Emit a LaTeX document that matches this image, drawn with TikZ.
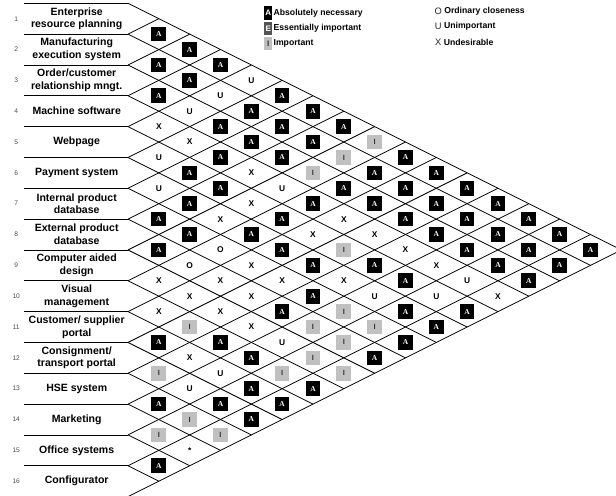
\documentclass[tikz,border=0pt]{standalone}
\usepackage{fontspec}
\setmainfont{Liberation Sans}
\newfontfamily\markfont{Liberation Serif}
\usepackage{tikz}
\usetikzlibrary{positioning}
\usepackage{xcolor}
\definecolor{relgray}{HTML}{C0C0C0}
\definecolor{reldark}{HTML}{555555}

\begin{document}
\begin{tikzpicture}[
    x=23.12pt, y=23.12pt,
    node distance=1.2pt and 0.6pt,
    chartline/.style={line width=0.6pt},
    rowtext/.style={align=center, inner sep=0pt, font=\fontsize{7.9}{9.5}\selectfont\bfseries},
    rownum/.style={inner sep=0pt, text=black!70, font=\fontsize{5}{6}\selectfont},
    abox/.style={fill=black, text=white, minimum size=11pt, inner sep=0pt, font=\markfont\fontsize{5.6}{6}\selectfont\bfseries},
    ibox/.style={fill=relgray, text=black!80, minimum size=11pt, inner sep=0pt, font=\fontsize{5.6}{6}\selectfont\bfseries},
    rel/.style={inner sep=0pt, font=\fontsize{6.3}{7}\selectfont\bfseries},
    keybox/.style={minimum width=6pt, minimum height=10pt, inner sep=0pt, font=\fontsize{6}{7}\selectfont\bfseries},
    keysym/.style={inner sep=0pt, text=black!85, font=\fontsize{7}{8}\selectfont},
    keytext/.style={inner sep=0pt, font=\fontsize{6.5}{7}\selectfont\bfseries}
]
\useasboundingbox (-4.152,0.107) rectangle (15.829,-15.949);

% row boundaries
\foreach \k in {0,...,16} {
  \coordinate (a\k) at (-3.37,-\k);
  \coordinate (b\k) at (0,-\k);
  \draw[chartline] (a\k) -- (b\k);
}
\coordinate (tip) at (16,-8);

% diagonals of the chart
\foreach \k in {0,...,15}
  \draw[chartline] (b\k) -- ++({16-\k},{-(16-\k)/2});
\foreach \k in {1,...,16}
  \draw[chartline] (b\k) -- ++(\k,{\k/2});

% activities
\foreach \r/\txt in {1/{Enterprise\\resource planning}, 2/{Manufacturing\\execution system},
    3/{Order/customer\\relationship mngt.}, 4/{Machine software}, 5/{Webpage},
    6/{Payment system}, 7/{Internal product\\database}, 8/{External product\\database},
    9/{Computer aided\\design}, 10/{Visual\\management}, 11/{Customer/ supplier\\portal},
    12/{Consignment/\\transport portal}, 13/{HSE system}, 14/{Marketing},
    15/{Office systems}, 16/{Configurator}} {
  \node[rowtext] (r\r) at (-1.664,{0.5-\r}) {\txt};
  \node[rownum] (n\r) at (-3.626,{0.5-\r}) {\r};
}

% absolutely necessary
\foreach \d/\s in {1/2,1/4,1/6,1/14,1/16,1/22,1/26,1/30,
    2/3,2/5,2/11,2/13,2/15,
    3/4,3/8,3/10,3/12,3/22,3/26,
    4/7,4/9,4/15,4/23,4/25,4/27,
    5/6,5/8,5/10,5/14,5/16,5/20,5/26,
    6/7,6/9,6/13,6/17,6/19,6/25,
    7/8,7/12,
    8/11,8/13,8/17,8/23,
    9/10,9/12,9/14,9/18,9/20,9/22,
    10/11,10/13,10/15,10/21,
    11/12,11/14,11/16,11/20,
    12/13,12/15,12/17,
    13/14,13/16,13/18,
    14/15,14/17,
    15/16}
  \node[abox] (c\d-\s) at (\d,{-\s/2}) {A};

% important
\foreach \d/\s in {1/24,1/28,2/21,2/27,3/28,5/24,6/11,6/21,6/23,
    7/10,7/16,7/20,7/22,7/24,8/9,8/21}
  \node[ibox] (c\d-\s) at (\d,{-\s/2}) {I};

% ordinary, unimportant, undesirable
\foreach \d/\s/\t in {1/8/X,1/10/U,1/12/U,1/18/X,1/20/X,
    2/7/U,2/9/X,2/17/O,2/19/X,2/23/X,2/25/U,2/29/*,
    3/6/U,3/14/X,3/16/O,3/18/X,3/20/X,3/24/U,
    4/5/U,4/11/X,4/13/X,4/17/X,4/19/X,4/21/X,
    5/12/U,5/18/X,5/22/U,
    6/15/X,
    7/14/X,7/18/X,
    8/15/X,8/19/U,
    9/16/X,
    10/17/X,10/19/U,
    11/18/U,
    12/19/X}
  \node[rel] (c\d-\s) at (\d,{-\s/2}) {\t};

% legend
\node[keybox, fill=black, text=white] (keyA) at (4.55,-0.31) {A};
\node[keybox, fill=reldark, text=white, below=of keyA] (keyE) {E};
\node[keybox, fill=relgray, text=black!80, below=of keyE] (keyI) {I};
\node[keytext, right=of keyA] (txtA) {Absolutely necessary};
\node[keytext, right=of keyE] (txtE) {Essentially important};
\node[keytext, right=of keyI] (txtI) {Important};

\node[keysym] (keyO) at (10.06,-0.27) {O};
\node[keysym] (keyU) at (10.06,-0.76) {U};
\node[keysym] (keyX) at (10.06,-1.265) {X};
\node[keytext, right=1.5pt of keyO] (txtO) {Ordinary closeness};
\node[keytext, right=1.5pt of keyU] (txtU) {Unimportant};
\node[keytext, right=1.5pt of keyX] (txtX) {Undesirable};
\end{tikzpicture}
\end{document}
